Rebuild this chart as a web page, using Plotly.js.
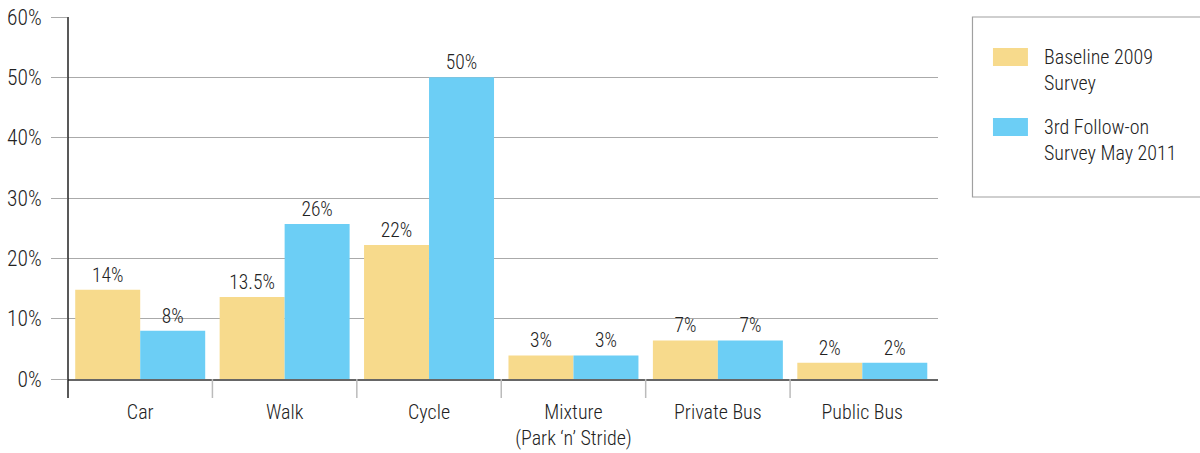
<!DOCTYPE html>
<html>
<head>
<meta charset="utf-8">
<script src="https://cdn.plot.ly/plotly-3.0.1.min.js"></script>
<style>html,body{margin:0;padding:0;background:#fff;}#chart{width:1200px;height:453px;}</style>
</head>
<body>
<div id="chart"></div>
<script>
// ---- data ----
var categories = ["Car", "Walk", "Cycle", "Mixture<br>(Park \u2018n\u2019 Stride)", "Private Bus", "Public Bus"];
var baseline2009 = [14.8, 13.6, 22.2, 3.9, 6.4, 2.7];
var followOn2011 = [8.0, 25.7, 50.0, 3.9, 6.4, 2.7];
var baselineLabels = ["14%", "13.5%", "22%", "3%", "7%", "2%"];
var followOnLabels = ["8%", "26%", "50%", "3%", "7%", "2%"];
var seriesNames = ["Baseline 2009<br>Survey", "3rd Follow-on<br>Survey May 2011"];
var yTickVals = [0, 10, 20, 30, 40, 50, 60];
var yTickText = ["0%", "10%", "20%", "30%", "40%", "50%", "60%"];

// ---- layout constants ----
var W = 1200, H = 453;
var M = {l: 67.5, r: 262, t: 17, b: 74};
var PW = W - M.l - M.r, PH = H - M.t - M.b;
function px(x) { return (x - M.l) / PW; }
function py(y) { return (H - M.b - y) / PH; }

var FONT = "'Roboto Condensed', 'Liberation Sans Narrow', 'Arial Narrow', Roboto, sans-serif";
var WEIGHT = 300;
var colors = ["#F7DA8C", "#6CCEF5"];
var n = categories.length;
var xRangeMax = -0.5 + PW / ((212 - 67.5));

var traces = [
  {type: "bar", x: categories, y: baseline2009, text: baselineLabels, name: seriesNames[0],
   marker: {color: colors[0], line: {width: 0}}, textposition: "outside", cliponaxis: false,
   textfont: {family: FONT, size: 19.5, weight: WEIGHT, color: "#222"}, hoverinfo: "x+y"},
  {type: "bar", x: categories, y: followOn2011, text: followOnLabels, name: seriesNames[1],
   marker: {color: colors[1], line: {width: 0}}, textposition: "outside", cliponaxis: false,
   textfont: {family: FONT, size: 19.5, weight: WEIGHT, color: "#222"}, hoverinfo: "x+y"}
];

var shapes = [];
// category separator ticks
for (var i = 1; i < n; i++) {
  shapes.push({type: "line", xref: "x", yref: "paper", x0: i - 0.5, x1: i - 0.5,
    y0: 0, y1: -19 / PH, line: {color: "#bbbbbb", width: 1.5}, layer: "above"});
}
// y axis line (extends below the axis)
shapes.push({type: "line", xref: "paper", yref: "paper", x0: 0, x1: 0, y0: 1, y1: -19 / PH,
  line: {color: "#222", width: 1.5}, layer: "above"});
// legend box (right side open, runs past the edge)
shapes.push({type: "path", xref: "paper", yref: "paper",
  path: "M " + px(1215) + "," + py(17) + " L " + px(972.5) + "," + py(17) + " L " + px(972.5) + "," + py(197) + " L " + px(1215) + "," + py(197),
  line: {color: "#a0a0a0", width: 1.2}});
var annotations = [];
var swTop = [48, 118];
var txtMid = [70, 140];
for (var s = 0; s < 2; s++) {
  shapes.push({type: "rect", xref: "paper", yref: "paper", x0: px(993), x1: px(1028),
    y0: py(swTop[s] + 18), y1: py(swTop[s]), fillcolor: colors[s], line: {width: 0}});
  annotations.push({xref: "paper", yref: "paper", x: px(1042), y: py(txtMid[s]),
    xanchor: "left", yanchor: "middle", align: "left", showarrow: false,
    text: seriesNames[s], font: {family: FONT, size: 20, weight: WEIGHT, color: "#222"}});
}

var layout = {
  width: W, height: H,
  margin: M,
  paper_bgcolor: "#fff", plot_bgcolor: "#fff",
  showlegend: false,
  barmode: "group", bargap: 0.1, bargroupgap: 0,
  font: {family: FONT, color: "#333", weight: WEIGHT},
  xaxis: {type: "category", range: [-0.5, xRangeMax], showgrid: false, zeroline: false,
    showline: true, linecolor: "#666", linewidth: 2,
    ticks: "outside", ticklen: 14, tickcolor: "rgba(0,0,0,0)",
    tickfont: {family: FONT, size: 20, weight: WEIGHT, color: "#222"}, fixedrange: true},
  yaxis: {range: [0, 60], tickvals: yTickVals, ticktext: yTickText, showgrid: true,
    gridcolor: "#aaaaaa", gridwidth: 1, zeroline: false, showline: false,
    ticks: "outside", ticklen: 16, tickcolor: "#aaaaaa", ticklabelstandoff: 5,
    tickfont: {family: FONT, size: 21.5, weight: WEIGHT, color: "#222"}, fixedrange: true},
  shapes: shapes,
  annotations: annotations
};

Plotly.newPlot("chart", traces, layout, {displayModeBar: false, staticPlot: true});
</script>
</body>
</html>
